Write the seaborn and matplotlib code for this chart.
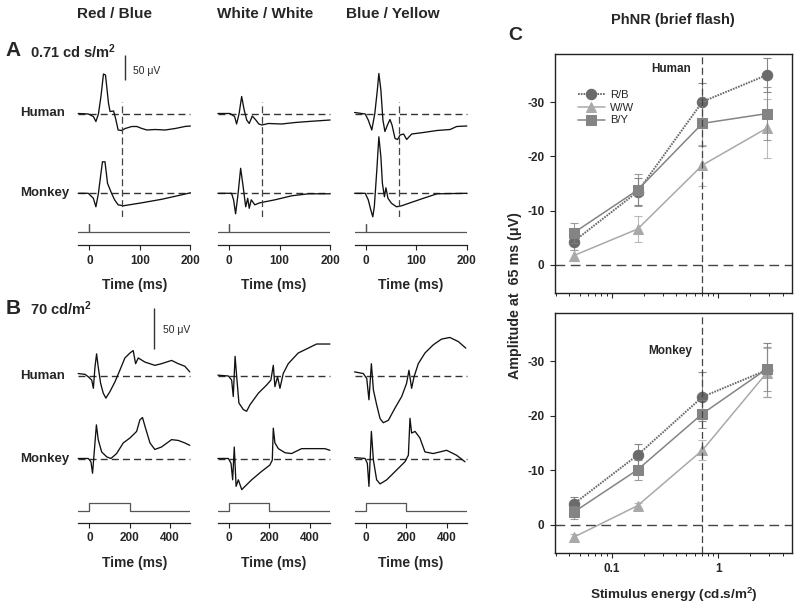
import matplotlib
matplotlib.use("Agg")
import matplotlib.pyplot as plt
import matplotlib.ticker as mticker
import seaborn as sns

# ==========================
# 1. Datos
# ==========================

# A: flash 0.71 cd s/m2 -> tiempo (ms) / amplitud (uV)
a_rb_hum_t = [-22, -2, 8, 13, 18, 23, 28, 32, 38, 41, 48, 52, 57, 64, 71, 84, 94, 104, 114, 130, 150, 170, 189, 200]
a_rb_hum_v = [1, 0, -5, -15, 0, 35, 80, 78, 21, 5, 6, -9, -32, -33, -29, -25, -25, -29, -32, -31, -32, -29, -25, -24]
a_rb_mon_t = [-22, -2, 8, 13, 18, 23, 26, 31, 36, 40, 44, 50, 57, 67, 104, 143, 183, 200]
a_rb_mon_v = [0, 0, -10, -27, 0, 40, 63, 63, 20, 10, 0, -13, -23, -25, -19, -12, -3, 1]

a_ww_hum_t = [-22, 2, 11, 15, 20, 25, 30, 35, 40, 46, 53, 59, 65, 78, 104, 131, 157, 200]
a_ww_hum_v = [1, 1, -5, -20, 1, 35, 8, -12, -19, -4, -12, -20, -22, -19, -20, -17, -15, -12]
a_ww_mon_t = [-22, 5, 9, 13, 18, 23, 28, 33, 37, 40, 44, 51, 61, 71, 91, 124, 157, 200]
a_ww_mon_v = [0, 0, -13, -41, 0, 50, 13, -27, -10, -30, -13, -23, -19, -17, -13, -5, -1, -1]

a_by_hum_t = [-22, -1, 5, 12, 18, 23, 26, 30, 34, 38, 43, 48, 52, 58, 63, 68, 75, 81, 91, 114, 141, 167, 180, 200]
a_by_hum_v = [3, 0, -12, -32, 1, 48, 81, 48, -12, -35, -22, -11, -22, -49, -51, -42, -40, -51, -40, -37, -33, -31, -25, -24]
a_by_mon_t = [-22, -1, 5, 10, 14, 17, 22, 26, 30, 33, 37, 40, 44, 51, 61, 71, 88, 114, 141, 200]
a_by_mon_v = [0, 0, -13, -33, -47, -27, 47, 113, 73, 20, -7, 11, -10, -20, -27, -25, -19, -10, -1, 0]

# B: 70 cd/m2, pulso de 200 ms
b_rb_hum_t = [-55, -21, -5, 12, 20, 28, 36, 44, 56, 69, 82, 102, 127, 151, 176, 201, 217, 229, 242, 275, 324, 357, 407, 440, 472, 497]
b_rb_hum_v = [3, 2, -1, -5, -15, 11, 27, 11, -9, -21, -27, -19, -7, 7, 22, 28, 31, 15, 22, 17, 13, 15, 19, 15, 12, 5]
b_rb_mon_t = [-55, -5, 8, 16, 25, 35, 44, 61, 86, 107, 135, 168, 201, 234, 250, 263, 278, 300, 324, 357, 407, 440, 472, 497]
b_rb_mon_v = [1, 1, -3, -17, 11, 42, 24, 9, 3, 1, 7, 20, 26, 34, 48, 51, 38, 20, 12, 15, 24, 23, 20, 17]

b_ww_hum_t = [-55, -3, 13, 21, 30, 38, 49, 71, 87, 104, 145, 186, 207, 219, 227, 240, 252, 268, 293, 342, 392, 433, 499]
b_ww_hum_v = [1, 0, -5, -25, 24, -1, -33, -41, -43, -35, -21, -11, -5, 13, -13, -1, -15, 3, 15, 28, 34, 39, 39]
b_ww_mon_t = [-55, -3, 10, 18, 26, 35, 46, 63, 79, 112, 160, 202, 214, 219, 227, 244, 277, 309, 359, 425, 474, 499]
b_ww_mon_v = [1, 1, -5, -25, 15, -33, -25, -37, -33, -25, -15, -7, -1, 38, 20, 13, 8, 7, 13, 13, 13, 11]

b_by_hum_t = [-55, -12, 5, 16, 28, 38, 54, 71, 87, 112, 145, 178, 202, 214, 227, 239, 260, 293, 334, 375, 416, 458, 495]
b_by_hum_v = [5, 3, -3, -29, 15, -17, -35, -52, -57, -54, -39, -25, -9, 7, -15, -1, 15, 28, 38, 45, 47, 42, 34]
b_by_mon_t = [-55, -3, 8, 16, 28, 38, 54, 71, 104, 153, 194, 211, 219, 227, 244, 268, 293, 334, 400, 449, 491]
b_by_mon_v = [2, 1, -5, -33, 34, -1, -25, -30, -25, -13, -3, 5, 50, 32, 34, 26, 9, 7, 11, 5, -3]

# estimulos
stim_a_t = [-22, 0, 0, 0, 200]
stim_a_v = [0, 0, 1, 0, 0]
stim_b_t = [-55, 0, 0, 200, 200, 500]
stim_b_v = [0, 0, 1, 1, 0, 0]

col_titles = ["Red / Blue", "White / White", "Blue / Yellow"]

# C: PhNR a 65 ms (uV)
energy = [0.044, 0.175, 0.71, 2.84]
hum_rb = [-4.3, -13.5, -30.1, -35.0]
hum_rb_err = [1.5, 2.5, 3.4, 3.2]
hum_ww = [-1.7, -6.6, -18.4, -25.2]
hum_ww_err = [1.0, 2.4, 3.8, 5.4]
hum_by = [-5.9, -13.8, -26.1, -27.9]
hum_by_err = [1.8, 3.0, 4.2, 4.9]

mon_rb = [-3.8, -12.8, -23.5, -28.4]
mon_rb_err = [1.2, 2.0, 4.5, 5.0]
mon_ww = [2.3, -3.5, -13.7, -27.9]
mon_ww_err = [0.5, 0.5, 1.8, 4.5]
mon_by = [-2.3, -10.1, -20.4, -28.6]
mon_by_err = [1.2, 1.8, 2.6, 4.0]


# ==========================
# 2. Estilo
# ==========================

sns.set_style("ticks")
plt.rcParams["font.family"] = ["Liberation Sans", "DejaVu Sans"]
plt.rcParams["font.weight"] = "bold"
plt.rcParams["mathtext.default"] = "regular"
plt.rcParams["axes.unicode_minus"] = False
plt.rcParams["lines.scale_dashes"] = False

W, H = 800, 608
fig = plt.figure(figsize=(W / 100, H / 100), dpi=100)


def px_axes(left, top, w, h):
    return fig.add_axes([left / W, 1 - (top + h) / H, w / W, h / H])


def ftext(x, y, s, **kw):
    kw.setdefault("va", "center")
    fig.text(x / W, 1 - y / H, s, **kw)


def trace(ax, t, v):
    sns.lineplot(x=t, y=v, ax=ax, color="#111111", lw=0.95,
                 estimator=None, errorbar=None, sort=False, clip_on=False)


col_left = [78.2, 217.9, 354.6]
col_w = 112.2
dash_base = (0, (5, 3))

# ==========================
# 3. Panel A y B (trazos)
# ==========================

panels = [
    dict(xlim=(-22, 200), s=0.5, hum=(60, 90, 114), mon=(150, 70, 193.3),
         stim=(220, 25, 231.7, 7.7), ticks=[0, 100, 200],
         tr=[(a_rb_hum_t, a_rb_hum_v, a_rb_mon_t, a_rb_mon_v),
             (a_ww_hum_t, a_ww_hum_v, a_ww_mon_t, a_ww_mon_v),
             (a_by_hum_t, a_by_hum_v, a_by_mon_t, a_by_mon_v)],
         st=(stim_a_t, stim_a_v)),
    dict(xlim=(-55, 500), s=0.82, hum=(300, 110, 376), mon=(410, 80, 459.3),
         stim=(495, 27.7, 511, 8.3), ticks=[0, 200, 400],
         tr=[(b_rb_hum_t, b_rb_hum_v, b_rb_mon_t, b_rb_mon_v),
             (b_ww_hum_t, b_ww_hum_v, b_ww_mon_t, b_ww_mon_v),
             (b_by_hum_t, b_by_hum_v, b_by_mon_t, b_by_mon_v)],
         st=(stim_b_t, stim_b_v)),
]

trace_axes = {}
for p_i, p in enumerate(panels):
    for c in range(3):
        left = col_left[c]
        ht, hv, mt, mv = p["tr"][c]
        for row, (top, h, base) in enumerate([p["hum"], p["mon"]]):
            ax = px_axes(left, top, col_w, h)
            ax.set_xlim(p["xlim"])
            ax.set_ylim(-(top + h - base) / p["s"], (base - top) / p["s"])
            ax.axis("off")
            ax.axhline(0, color="#333333", lw=1.0, ls=dash_base, clip_on=False)
            if row == 0:
                trace(ax, ht, hv)
            else:
                trace(ax, mt, mv)
            trace_axes[(p_i, c, row)] = ax

        # estimulo + eje de tiempo
        top, h, base, sc = p["stim"]
        sax = px_axes(left, top, col_w, h)
        sax.set_xlim(p["xlim"])
        sax.set_ylim(-(top + h - base) / sc, (base - top) / sc)
        sns.lineplot(x=p["st"][0], y=p["st"][1], ax=sax, color="#555555", lw=0.9,
                     estimator=None, errorbar=None, sort=False)
        for sp in ["left", "right", "top"]:
            sax.spines[sp].set_visible(False)
        sax.spines["bottom"].set_color("#222222")
        sax.spines["bottom"].set_linewidth(0.9)
        sax.set_yticks([])
        sax.set_xticks(p["ticks"])
        sax.tick_params(axis="x", direction="out", length=3.5, width=0.8,
                        pad=3.5, labelsize=8.5, color="#222222")
        sax.set_xlabel("Time (ms)", fontsize=10, fontweight="bold", labelpad=8)

        # linea vertical 65 ms (solo A)
        if p_i == 0:
            vax = px_axes(left, 101.7, col_w, 115)
            vax.set_xlim(p["xlim"])
            vax.axis("off")
            vax.axvline(65, color="#444444", lw=0.9, ls=(0, (5, 2.5)))

# barras de escala (50 uV)
ax = trace_axes[(0, 0, 0)]
ax.vlines(70.7, 68, 68 + 50, color="#333333", lw=1.0, clip_on=False)
ax = trace_axes[(1, 0, 0)]
ax.vlines(319.5, 33, 33 + 50, color="#333333", lw=1.0, clip_on=False)
ftext(133, 70.5, "50 μV", fontsize=7.5, fontweight="normal", ha="left")
ftext(163, 330, "50 μV", fontsize=7.5, fontweight="normal", ha="left")

# textos de los paneles izquierdos
for x, s in zip([115, 265, 393], col_titles):
    ftext(x, 14, s, fontsize=11, ha="center")
ftext(13, 50, "A", fontsize=15, ha="center")
ftext(30, 52, "0.71 cd s/m$^2$", fontsize=10.5, ha="left")
ftext(13, 308, "B", fontsize=15, ha="center")
ftext(30, 309, "70 cd/m$^2$", fontsize=10.5, ha="left")
for y, s in [(113, "Human"), (193, "Monkey"), (376, "Human"), (459, "Monkey")]:
    ftext(20, y, s, fontsize=9.5, ha="left")


# ==========================
# 4. Panel C (PhNR)
# ==========================

series = [
    ("R/B", "#6a6a6a", "o", (0, (1.2, 0.8)), 1.4),
    ("W/W", "#a9a9a9", "^", "-", 1.1),
    ("B/Y", "#848484", "s", "-", 1.1),
]
data_c = [
    (px_axes(555, 54, 237, 239), "Human",
     [(hum_rb, hum_rb_err), (hum_ww, hum_ww_err), (hum_by, hum_by_err)]),
    (px_axes(555, 313, 237, 240), "Monkey",
     [(mon_rb, mon_rb_err), (mon_ww, mon_ww_err), (mon_by, mon_by_err)]),
]

for k, (ax, who, vals) in enumerate(data_c):
    ax.set_xscale("log")
    for (name, color, mk, ls, lw), (v, e) in zip(series, vals):
        ax.errorbar(energy, v, yerr=e, fmt="none", ecolor=color, elinewidth=0.8,
                    capsize=3, capthick=0.8, alpha=0.8)
        sns.lineplot(x=energy, y=v, ax=ax, color=color, marker=mk, linestyle=ls,
                     lw=lw, markersize=7.5, markeredgecolor=color,
                     estimator=None, errorbar=None, label=name)
    ax.axhline(0, color="#444444", lw=1.0, ls=(0, (7, 4)))
    ax.axvline(0.71, color="#444444", lw=0.9, ls=(0, (5, 2.5)))
    ax.set_xlim(0.0294, 4.91)
    ax.set_ylim(5.2, -38.9)
    ax.set_yticks([0, -10, -20, -30])
    ax.xaxis.set_major_locator(mticker.FixedLocator([0.1, 1]))
    ax.xaxis.set_major_formatter(mticker.FixedFormatter(["0.1", "1"]))
    ax.xaxis.set_minor_formatter(mticker.NullFormatter())
    ax.tick_params(axis="both", which="major", direction="out", length=3.5,
                   width=0.8, pad=4, labelsize=8.5)
    ax.tick_params(axis="x", which="minor", direction="out", length=2, width=0.7)
    for sp in ax.spines.values():
        sp.set_visible(True)
        sp.set_linewidth(1.0)
        sp.set_color("#222222")
    ax.text(0.488, 0.936 if k == 0 else 0.843, who, transform=ax.transAxes,
            ha="center", va="center", fontsize=8.5)
    if k == 0:
        ax.tick_params(axis="x", labelbottom=False)
        ax.legend(loc="upper left", bbox_to_anchor=(0.095, 0.85), frameon=False,
                  borderpad=0, borderaxespad=0, handlelength=2.5, handletextpad=0.4,
                  labelspacing=0.25, prop={"size": 8, "weight": "normal"})
    else:
        leg = ax.get_legend()
        if leg is not None:
            leg.remove()
    ax.set_xlabel("")
    ax.set_ylabel("")

ftext(673, 20, "PhNR (brief flash)", fontsize=10.5, ha="center")
ftext(515, 35, "C", fontsize=14, ha="center")
ftext(515, 296, "Amplitude at  65 ms (μV)", fontsize=10.3, ha="center", rotation=90)
ftext(674, 595, "Stimulus energy (cd.s/m$^2$)", fontsize=9.7, ha="center")

plt.savefig("out.png", dpi=100)
